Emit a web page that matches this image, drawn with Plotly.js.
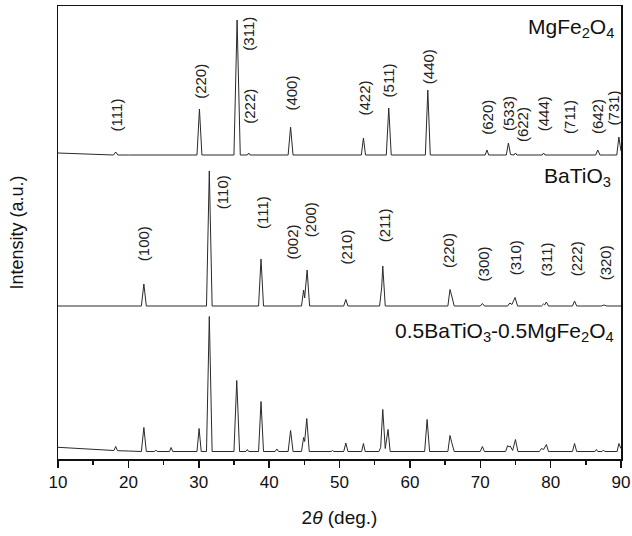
<!DOCTYPE html>
<html>
<head>
<meta charset="utf-8">
<script src="https://cdn.plot.ly/plotly-3.0.1.min.js"></script>
<style>html,body{margin:0;padding:0;background:#fff;}#chart{width:632px;height:536px;}</style>
</head>
<body>
<div id="chart"></div>
<script>
// ---- Data (2θ in degrees, intensity in a.u.) ----
const mgX = [10, 12, 15, 17.9, 18.2, 18.5, 20, 29.75, 30.1, 30.45, 35.0, 35.45, 35.9, 36.9, 37.1, 37.3, 42.7, 43.05, 43.4, 53.1, 53.4, 53.7, 56.65, 57.0, 57.35, 62.2, 62.55, 62.9, 70.7, 70.95, 71.2, 73.7, 74.0, 74.3, 74.8, 75.0, 75.2, 78.8, 79.0, 79.2, 86.4, 86.7, 87.0, 89.4, 89.7, 90];
const mgI = [2, 1.5, 0.5, 0, 3, 0, 0, 0, 46, 0, 0, 135, 0, 0, 2, 0, 0, 28, 0, 0, 17, 0, 0, 47, 0, 0, 65, 0, 0, 5, 0, 0, 12, 0.5, 0, 2, 0, 0, 2, 0, 0, 5, 0, 0, 18, 4];

const btX = [10, 21.85, 22.2, 22.55, 31.1, 31.5, 31.9, 38.5, 38.85, 39.2, 44.6, 44.9, 45.05, 45.4, 45.75, 50.6, 50.9, 51.2, 55.7, 56.0, 56.15, 56.5, 65.4, 65.7, 65.95, 66.3, 70.0, 70.3, 70.6, 73.9, 74.2, 74.5, 74.95, 75.3, 78.7, 79.0, 79.15, 79.4, 79.7, 83.1, 83.4, 83.7, 87.2, 87.6, 88.0, 90];
const btI = [0, 0, 22, 0, 0, 135, 0, 0, 47, 0, 0, 16, 8, 36, 0, 0, 6.5, 0, 0, 19, 40, 0, 0, 16.5, 10, 0, 0, 2.5, 0, 0, 3, 1.5, 8.5, 0, 0, 2, 1, 4, 0, 0, 5, 0, 0, 1, 0, 0];

const cX = [10, 14, 17, 17.95, 18.2, 18.45, 20, 21.85, 22.2, 22.55, 23.7, 23.9, 24.1, 25.85, 26.07, 26.3, 29.75, 30.05, 30.35, 31.1, 31.5, 31.9, 35.0, 35.4, 35.8, 36.7, 36.9, 37.1, 38.5, 38.85, 39.2, 40.85, 41.1, 41.35, 42.7, 43.05, 43.4, 44.6, 44.9, 45.05, 45.35, 45.7, 48.8, 49.0, 49.2, 50.6, 50.9, 51.2, 53.15, 53.4, 53.65, 55.6, 55.85, 56.15, 56.5, 56.9, 57.2, 62.1, 62.45, 62.8, 65.4, 65.7, 65.95, 66.3, 70.0, 70.3, 70.6, 73.6, 73.9, 74.1, 74.25, 74.6, 75.0, 75.35, 78.4, 78.7, 79.0, 79.4, 79.7, 83.1, 83.4, 83.7, 86.3, 86.5, 86.7, 87.3, 87.5, 87.7, 89.45, 89.7, 90];
const cI = [4.2, 2.5, 1.5, 1, 5, 0.8, 0.5, 0, 24, 0, 0, 1.5, 0, 0, 4, 0, 0, 23, 0, 0, 135, 0, 0, 71, 0, 0, 2, 0, 0, 50, 0, 0, 2.5, 0, 0, 21, 0, 0, 14, 10, 33, 0, 0, 1, 0, 0, 8.5, 0, 0, 8, 0, 0, 4, 42, 3, 22, 0, 0, 32, 0, 0, 16, 9, 0, 0, 5, 0, 0, 6, 4.5, 5.5, 1, 12, 0, 0, 3, 2, 7, 0, 0, 8, 0, 0, 2, 0, 0, 1.5, 0, 0, 8, 3];

// stacking offsets (a.u.)
const offsets = {mg: 307, bt: 156, c: 10.5};

// sample names
const sampleNames = ["MgFe<sub>2</sub>O<sub>4</sub>", "BaTiO<sub>3</sub>", "0.5BaTiO<sub>3</sub>-0.5MgFe<sub>2</sub>O<sub>4</sub>"];

// Miller index labels
const mgHkl = ["(111)", "(220)", "(311)", "(222)", "(400)", "(422)", "(511)", "(440)", "(620)", "(533)", "(622)", "(444)", "(711)", "(642)", "(731)"];
const mgHklX = [18.3, 30.15, 36.95, 37.1, 43.05, 53.55, 56.95, 62.6, 71.0, 73.95, 75.95, 78.95, 82.6, 86.6, 89.0];
const mgHklY = [347, 381, 428, 356, 369, 364, 382, 395, 344.5, 348, 337, 348, 345, 345, 354.5];

const btHkl = ["(100)", "(110)", "(111)", "(002)", "(200)", "(210)", "(211)", "(220)", "(300)", "(310)", "(311)", "(222)", "(320)"];
const btHklX = [22.1, 33.4, 39.05, 43.25, 45.9, 51.05, 56.4, 65.6, 70.45, 75.05, 79.4, 83.65, 87.85];
const btHklY = [218, 269.5, 249.5, 219.5, 242.5, 215.3, 236.2, 211.2, 198, 204.5, 203, 203, 199.5];

// ---- Build ----
const FONT = "Arial, 'Liberation Sans', sans-serif";
const lineStyle = {color: '#2a2a2a', width: 1};
function stack(arr, off) { return arr.map(v => v + off); }

const traces = [
  {x: mgX, y: stack(mgI, offsets.mg), type: 'scatter', mode: 'lines', line: lineStyle, name: 'MgFe2O4', hoverinfo: 'x+name'},
  {x: btX, y: stack(btI, offsets.bt), type: 'scatter', mode: 'lines', line: lineStyle, name: 'BaTiO3', hoverinfo: 'x+name'},
  {x: cX, y: stack(cI, offsets.c), type: 'scatter', mode: 'lines', line: lineStyle, name: 'composite', hoverinfo: 'x+name'}
];

const annotations = [];
function addHkl(texts, xs, ys) {
  texts.forEach((t, i) => annotations.push({
    text: t, x: xs[i], y: ys[i], xref: 'x', yref: 'y', showarrow: false,
    textangle: -90, xanchor: 'center', yanchor: 'middle',
    font: {family: FONT, size: 15, color: '#222'}
  }));
}
addHkl(mgHkl, mgHklX, mgHklY);
addHkl(btHkl, btHklX, btHklY);

const nameY = [434, 285, 130];
const nameX = [0.991, 0.986, 0.992];
sampleNames.forEach((t, i) => annotations.push({
  text: t, x: nameX[i], y: nameY[i], xref: 'paper', yref: 'y', showarrow: false,
  xanchor: 'right', yanchor: 'middle', font: {family: FONT, size: 21, color: '#111'}
}));

const layout = {
  width: 632, height: 536,
  margin: {l: 58, r: 11, t: 6, b: 77},
  paper_bgcolor: '#fff', plot_bgcolor: '#fff',
  showlegend: false,
  font: {family: FONT, color: '#111'},
  xaxis: {
    range: [10, 90], dtick: 10, tick0: 10,
    ticks: 'outside', ticklen: 7, tickwidth: 1.5, tickcolor: '#111',
    minor: {dtick: 5, ticks: 'outside', ticklen: 4, tickwidth: 1.5, tickcolor: '#111'},
    showline: true, mirror: true, linewidth: 1.5, linecolor: '#111',
    showgrid: false, zeroline: false,
    tickfont: {family: FONT, size: 17, color: '#111'},
    title: {text: '2<i>θ</i> (deg.)', font: {family: FONT, size: 19, color: '#111'}, standoff: 20}
  },
  yaxis: {
    range: [3, 456],
    showticklabels: false, ticks: '',
    showline: true, mirror: true, linewidth: 1.5, linecolor: '#111',
    showgrid: false, zeroline: false,
    title: {text: 'Intensity (a.u.)', font: {family: FONT, size: 18, color: '#111'}, standoff: 28}
  },
  annotations: annotations
};

Plotly.newPlot('chart', traces, layout, {displayModeBar: false, staticPlot: true});
</script>
</body>
</html>
